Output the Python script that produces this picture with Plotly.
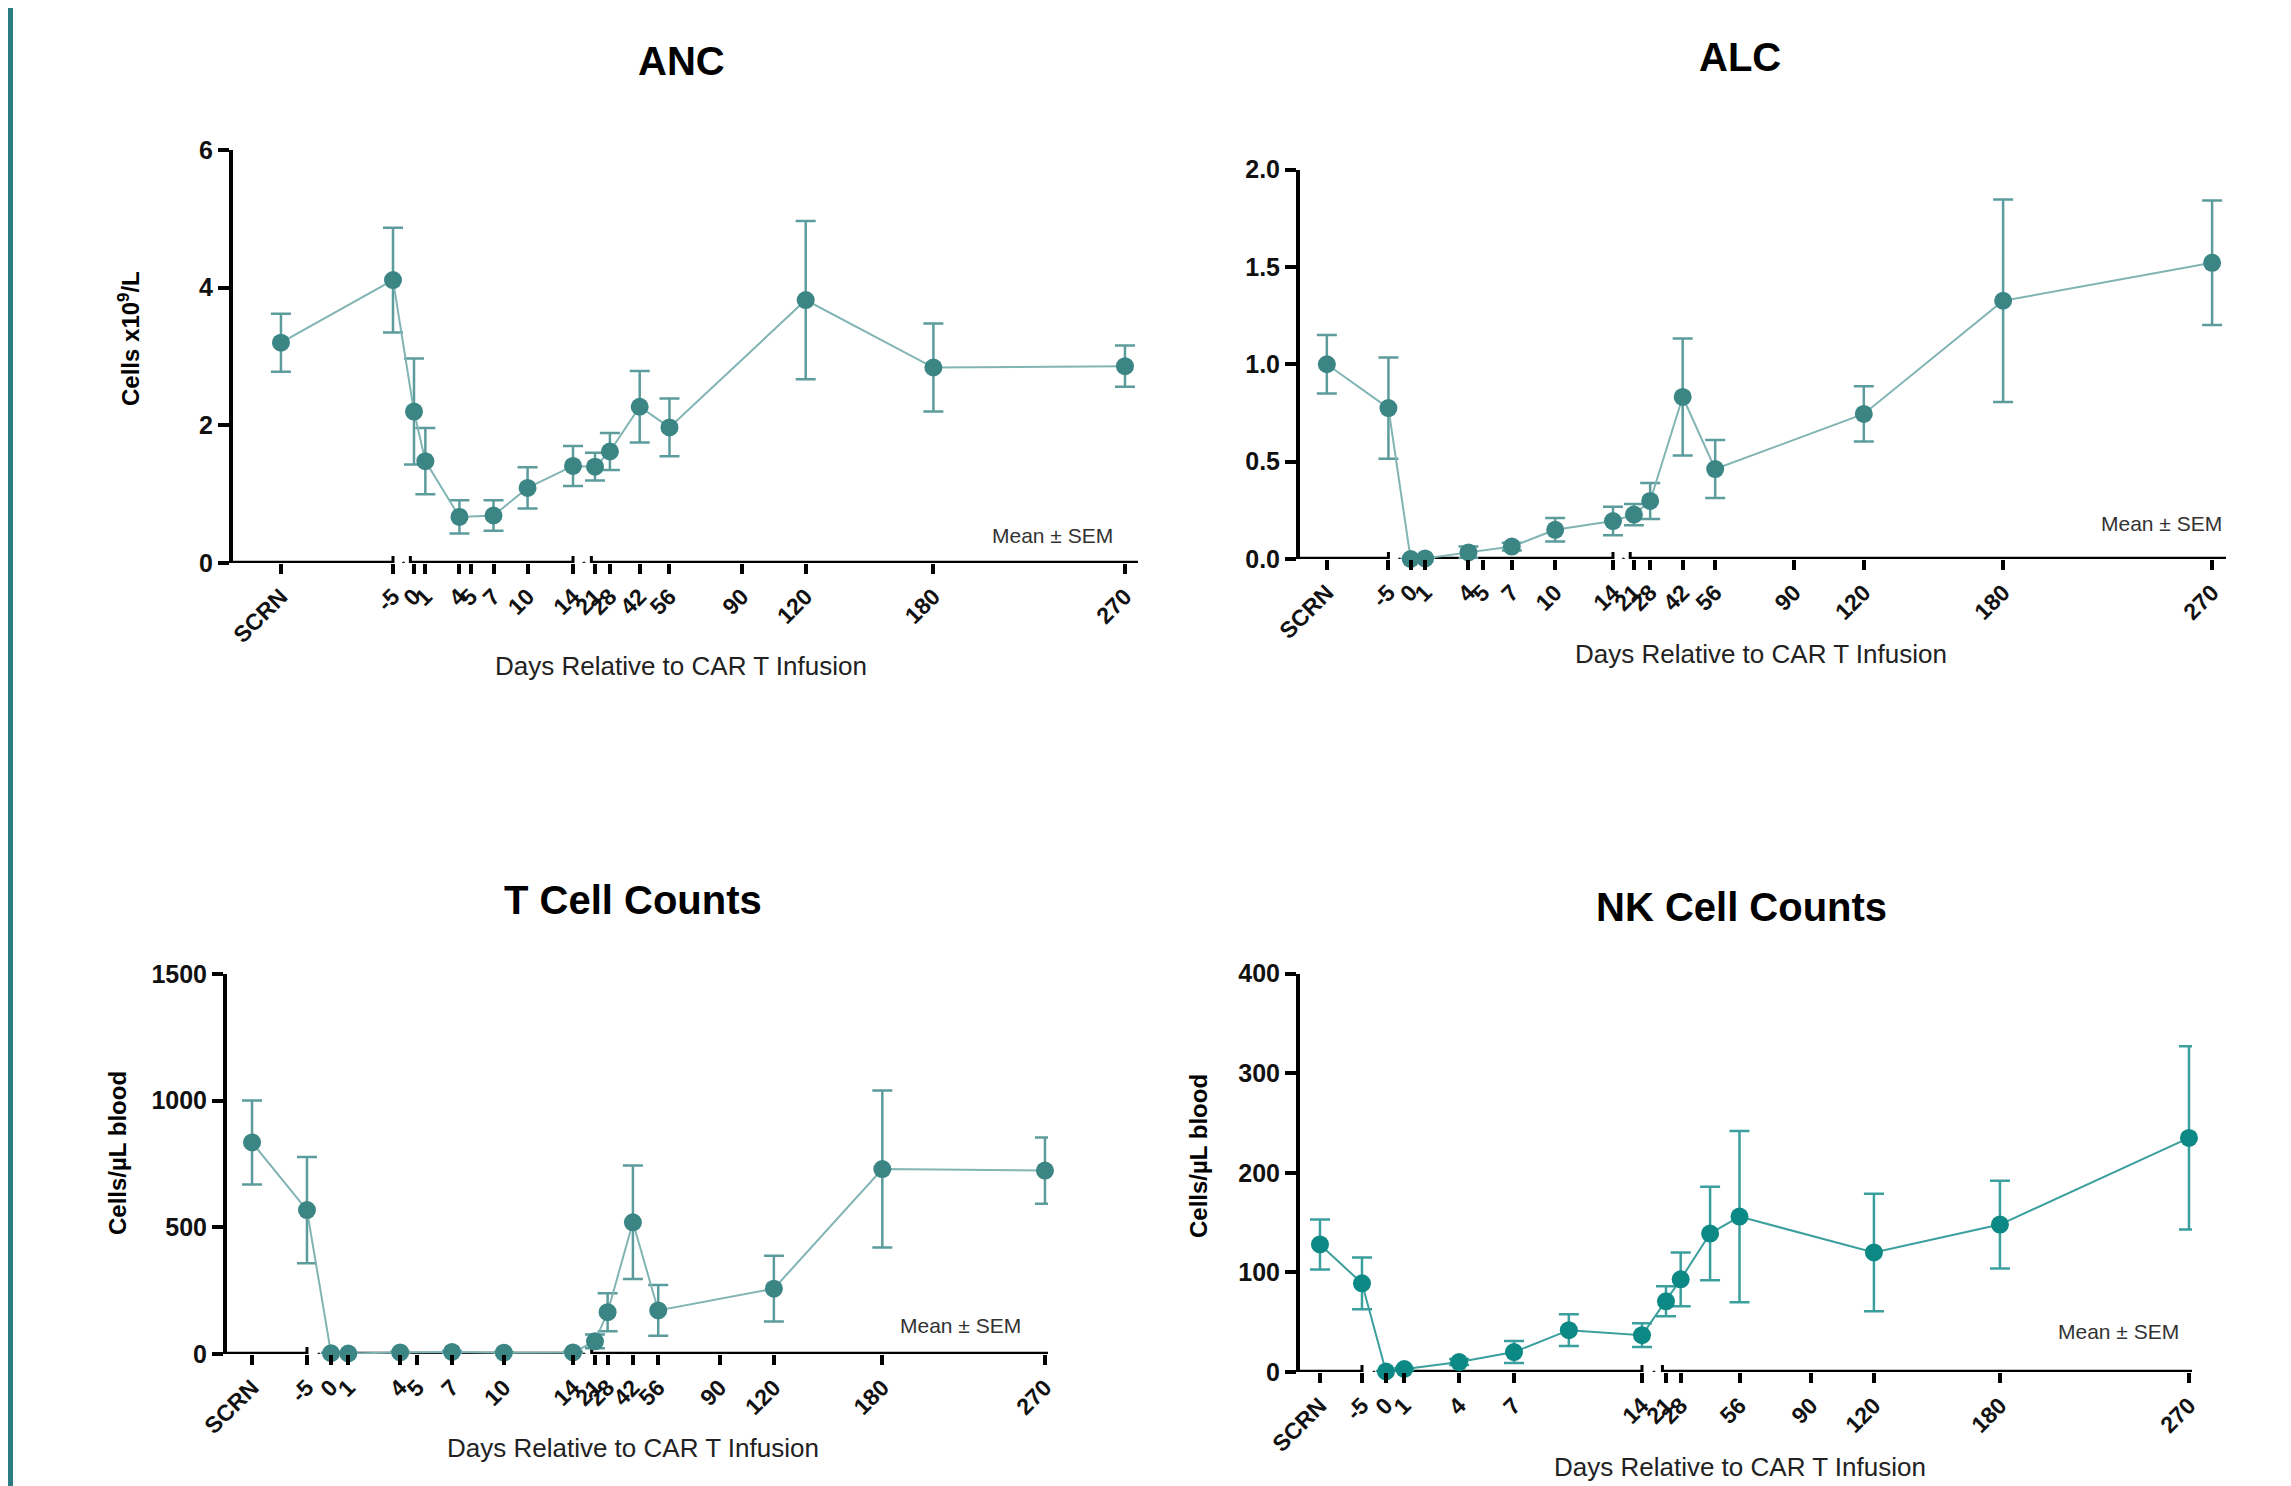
import plotly.graph_objects as go

# ---------------- data ----------------
anc_days = ["SCRN", "-5", "0", "1", "4", "7", "10", "14", "21", "28", "42", "56", "120", "180", "270"]
anc_mean = [3.20, 4.11, 2.20, 1.48, 0.67, 0.69, 1.09, 1.41, 1.40, 1.62, 2.27, 1.97, 3.82, 2.84, 2.86]
anc_sem = [0.42, 0.76, 0.77, 0.48, 0.24, 0.22, 0.30, 0.29, 0.20, 0.27, 0.52, 0.42, 1.15, 0.64, 0.30]

alc_days = ["SCRN", "-5", "0", "1", "4", "7", "10", "14", "21", "28", "42", "56", "120", "180", "270"]
alc_mean = [1.00, 0.775, 0.0, 0.003, 0.034, 0.064, 0.150, 0.195, 0.228, 0.298, 0.832, 0.462, 0.745, 1.326, 1.521]
alc_sem = [0.15, 0.26, 0.0, 0.003, 0.03, 0.02, 0.06, 0.073, 0.055, 0.092, 0.30, 0.149, 0.142, 0.52, 0.32]

tc_days = ["SCRN", "-5", "0", "1", "4", "7", "10", "14", "21", "28", "42", "56", "120", "180", "270"]
tc_mean = [835, 568, 3, 2, 6, 8, 5, 6, 50, 165, 520, 172, 258, 730, 724]
tc_sem = [166, 210, 2, 2, 3, 4, 3, 3, 27, 75, 224, 100, 130, 310, 131]

nk_days = ["SCRN", "-5", "0", "1", "4", "7", "10", "14", "21", "28", "42", "56", "120", "180", "270"]
nk_mean = [128, 89, 0.5, 3, 10, 20, 42, 37, 71, 93, 139, 156, 120, 148, 235]
nk_sem = [25, 26, 0.5, 1, 3, 11, 16, 12, 15, 27, 47, 86, 59, 44, 92]

std_ticks = ["SCRN", "-5", "0", "1", "4", "5", "7", "10", "14", "21", "28", "42", "56", "90", "120", "180", "270"]
nk_ticks = ["SCRN", "-5", "0", "1", "4", "7", "14", "21", "28", "56", "90", "120", "180", "270"]

titles = ["ANC", "ALC", "T Cell Counts", "NK Cell Counts"]
y_titles = ["Cells x10<sup>9</sup>/L", "", "Cells/µL blood", "Cells/µL blood"]
x_title = "Days Relative to CAR T Infusion"

# ---------------- layout config ----------------
W, H = 2291, 1486
OFF = 8  # page body margin
FONT = "Liberation Sans, Arial, sans-serif"
TEAL = dict(marker="#3b8585", line="#82b4b4", err="#5d9c9c")
NKTEAL = dict(marker="#0d8985", line="#3b9f9d", err="#3b9f9d")

# broken x-axis scale: fractional positions along each axis
panels = [
    dict(days=anc_days, mean=anc_mean, sem=anc_sem, ticks=std_ticks,
         yvals=[0, 2, 4, 6], ytext=["0", "2", "4", "6"], yr=[0, 6],
         px=(233, 1138), py=(150, 563), col=TEAL,
         scale=dict(scrn=0.0530, m5=0.1768, z0=0.200, z14=0.3757, t21=0.400, t270=0.9856),
         title_pos=(681, 61), xt_pos=(681, 666), yt_pos=(129, 339), sem_pos=(1052, 535)),
    dict(days=alc_days, mean=alc_mean, sem=alc_sem, ticks=std_ticks,
         yvals=[0, 0.5, 1, 1.5, 2], ytext=["0.0", "0.5", "1.0", "1.5", "2.0"], yr=[0, 2],
         px=(1300, 2226), py=(169.5, 559), col=TEAL,
         scale=dict(scrn=0.029, m5=0.0955, z0=0.1195, z14=0.338, t21=0.3606, t270=0.985),
         title_pos=(1740, 57), xt_pos=(1761, 654), yt_pos=None, sem_pos=(2161, 523)),
    dict(days=tc_days, mean=tc_mean, sem=tc_sem, ticks=std_ticks,
         yvals=[0, 500, 1000, 1500], ytext=["0", "500", "1000", "1500"], yr=[0, 1500],
         px=(227, 1048), py=(974, 1354), col=TEAL,
         scale=dict(scrn=0.0305, m5=0.0974, z0=0.1267, z14=0.4214, t21=0.4482, t270=0.9963),
         title_pos=(633, 900), xt_pos=(633, 1448), yt_pos=(117, 1153), sem_pos=(960, 1325)),
    dict(days=nk_days, mean=nk_mean, sem=nk_sem, ticks=nk_ticks,
         yvals=[0, 100, 200, 300, 400], ytext=["0", "100", "200", "300", "400"], yr=[0, 400],
         px=(1300, 2192), py=(973.5, 1372), col=NKTEAL,
         scale=dict(scrn=0.0224, m5=0.0695, z0=0.0964, z14=0.3834, t21=0.4103, t270=0.9966),
         title_pos=(1741, 907), xt_pos=(1740, 1467), yt_pos=(1198, 1156), sem_pos=(2118, 1331)),
]


def make_scale(s):
    def f(day):
        if day == "SCRN":
            return s["scrn"]
        d = int(day)
        if d < 0:
            return s["m5"]
        if d <= 14:
            return s["z0"] + d * (s["z14"] - s["z0"]) / 14.0
        return s["t21"] + (d - 21) * (s["t270"] - s["t21"]) / 249.0
    return f


def fx(x):
    return (x - OFF) / W


def fy(y):
    return 1 - (y - OFF) / H


fig = go.Figure()
shapes = []
annotations = []


def add_text(text, pos, size, color, angle=0):
    annotations.append(dict(text=text, x=fx(pos[0]), y=fy(pos[1]), xref="paper", yref="paper",
                            showarrow=False, xanchor="center", yanchor="middle", textangle=angle,
                            font=dict(family=FONT, size=size, color=color)))


for i, p in enumerate(panels):
    n = "" if i == 0 else str(i + 1)
    xa, ya = "x" + n, "y" + n
    f = make_scale(p["scale"])
    xs = [f(d) for d in p["days"]]
    c = p["col"]
    fig.add_trace(go.Scatter(
        x=xs, y=p["mean"], xaxis=xa, yaxis=ya, mode="lines+markers",
        line=dict(color=c["line"], width=2),
        marker=dict(color=c["marker"], size=18),
        error_y=dict(type="data", array=p["sem"], visible=True, color=c["err"], thickness=2.5, width=10),
        cliponaxis=False, showlegend=False, hoverinfo="skip"))

    x0, x1 = p["px"]
    ytop, ybot = p["py"]
    fig.layout["xaxis" + n] = dict(
        domain=[fx(x0), fx(x1)], range=[0, 1], anchor=ya, showline=False, showgrid=False,
        zeroline=False, automargin=False, tickmode="array", tickvals=[f(t) for t in p["ticks"]],
        ticktext=p["ticks"], ticks="outside", ticklen=10, tickwidth=4, tickcolor="black", tickangle=-45,
        tickfont=dict(family=FONT, size=23, color="#111", weight="bold"), fixedrange=True)
    fig.layout["yaxis" + n] = dict(
        domain=[fy(ybot), fy(ytop)], range=p["yr"], anchor=xa, showline=True, linewidth=4,
        linecolor="black", showgrid=False, zeroline=False, automargin=False, tickmode="array",
        tickvals=p["yvals"], ticktext=p["ytext"], ticks="outside", ticklen=11, tickwidth=4,
        tickcolor="black", tickfont=dict(family=FONT, size=25, color="#111", weight="bold"),
        fixedrange=True)

    s = p["scale"]
    eps = 0.004
    segs = [(-0.012, s["m5"]), (s["z0"] - eps, s["z14"]), (s["t21"] - eps, 1.0)]
    for a, b in segs:
        shapes.append(dict(type="line", xref=xa, yref=ya, x0=a, x1=b, y0=0, y1=0,
                           line=dict(color="black", width=4.5), layer="below"))
    for cx in [s["m5"], s["z0"] - eps, s["z14"], s["t21"] - eps]:
        shapes.append(dict(type="line", xref=xa, yref=ya, ysizemode="pixel", yanchor=0,
                           x0=cx, x1=cx, y0=-10, y1=7, line=dict(color="black", width=3), layer="below"))
    for gx in [(s["m5"] + s["z0"]) / 2, (s["z14"] + s["t21"]) / 2]:
        shapes.append(dict(type="circle", xref=xa, yref=ya, xsizemode="pixel", ysizemode="pixel",
                           xanchor=gx, yanchor=0, x0=-1.6, x1=1.6, y0=-1.6, y1=1.6,
                           fillcolor="#222", line=dict(width=0), layer="below"))

    add_text("<b>%s</b>" % titles[i], p["title_pos"], 40, "#000")
    add_text(x_title, p["xt_pos"], 26, "#222")
    if p["yt_pos"]:
        add_text("<b>%s</b>" % y_titles[i], p["yt_pos"], 24, "#000", angle=-90)
    add_text("Mean ± SEM", p["sem_pos"], 21, "#333")

# left teal border
shapes.append(dict(type="rect", xref="paper", yref="paper", x0=fx(7), x1=fx(13), y0=0, y1=1,
                   fillcolor="#2b7d80", line=dict(width=0), layer="above"))

fig.update_layout(width=W, height=H, margin=dict(l=0, r=0, t=0, b=0, autoexpand=False),
                  paper_bgcolor="white", plot_bgcolor="white",
                  shapes=shapes, annotations=annotations, showlegend=False)

fig.write_html("out.html")
